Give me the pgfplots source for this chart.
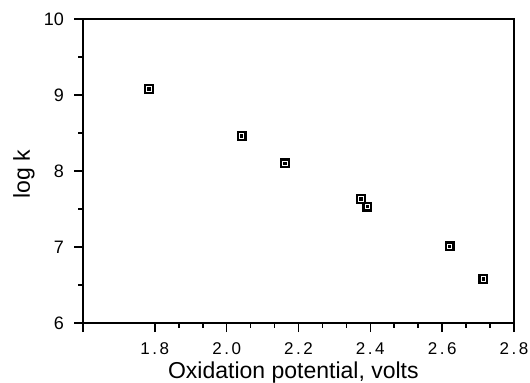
\documentclass[border=0pt]{standalone}
\usepackage{pgfplots}
\pgfplotsset{compat=1.18}
\usepackage{fontspec}
\setmainfont{Liberation Sans}
\begin{document}
\begin{tikzpicture}
\begin{axis}[
  at={(83bp,60bp)}, anchor=south west,
  scale only axis,
  width=431bp, height=304bp,
  xmin=1.6, xmax=2.8, ymin=6, ymax=10,
  xtick={1.8,2.0,2.2,2.4,2.6,2.8},
  extra x ticks={1.6},
  extra x tick labels={},
  ytick={6,7,8,9,10},
  minor x tick num=2,
  minor y tick num=1,
  tick align=outside,
  xtick pos=bottom, ytick pos=left,
  every axis/.append style={line width=1.8pt},
  axis line style={line width=1.8pt},
  major tick length=9bp, minor tick length=5bp,
  every tick/.style={black, line width=1.6pt},
  xticklabel style={font=\fontsize{17bp}{19bp}\selectfont\addfontfeature{LetterSpace=15}, anchor=base, yshift=-22bp},
  yticklabel style={font=\fontsize{18bp}{20bp}\selectfont, /pgf/number format/assume math mode=true, xshift=-6bp},
  xticklabel={\pgfmathprintnumber[fixed,fixed zerofill,precision=1,assume math mode=true]{\tick}},
  xlabel={Oxidation potential, volts},
  ylabel={log k},
  xlabel style={font=\fontsize{23bp}{25bp}\selectfont, at={(axis description cs:0.488,-0.181)}, anchor=base},
  ylabel style={font=\fontsize{23bp}{25bp}\selectfont, at={(axis description cs:-0.137,0.49)}, anchor=center, rotate=0},
]
\addplot[only marks, mark=square, mark size=3.85bp, mark options={line width=2.3bp, black}] table {
x y
1.784 9.08
2.042 8.46
2.162 8.10
2.374 7.63
2.392 7.53
2.621 7.01
2.715 6.58
};
\addplot[only marks, mark=square*, mark size=0.8bp, mark options={black}] table {
x y
1.784 9.08
2.042 8.46
2.162 8.10
2.374 7.63
2.392 7.53
2.621 7.01
2.715 6.58
};
\end{axis}
\pgfresetboundingbox
\useasboundingbox (0,0) rectangle (530bp,383bp);
\end{tikzpicture}
\end{document}
